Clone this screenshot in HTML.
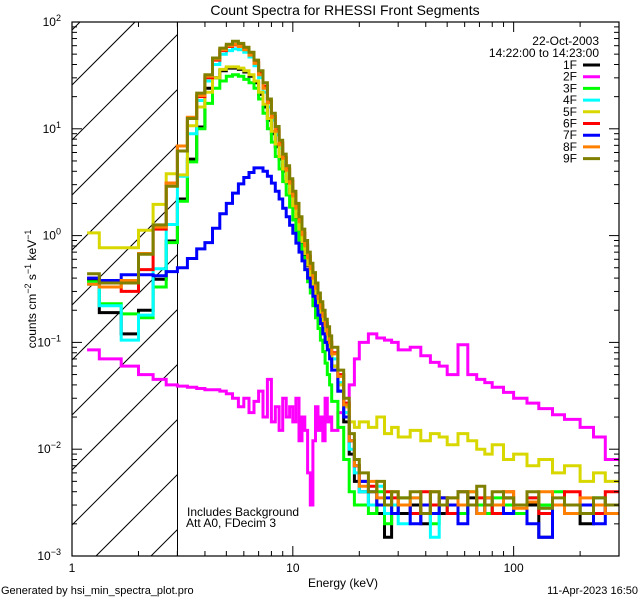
<!DOCTYPE html>
<html><head><meta charset="utf-8"><style>
html,body{margin:0;padding:0;background:#fff;width:640px;height:600px;overflow:hidden;}
svg{display:block;font-family:"Liberation Sans",sans-serif;overflow:hidden;}
</style></head><body>
<svg id="chart" width="640" height="600" viewBox="0 0 640 600">
<defs><clipPath id="plotclip"><rect x="72" y="22" width="547" height="534"/></clipPath></defs>
<rect width="640" height="600" fill="#fff"/>
<text x="345" y="15" font-size="14" text-anchor="middle">Count Spectra for RHESSI Front Segments</text>
<g id="hatch"></g>
<line x1="177.5" y1="22" x2="177.5" y2="556" stroke="#000" stroke-width="1"/>
<g id="series" clip-path="url(#plotclip)"></g>
<g id="axes"></g>
<text transform="translate(36,289) rotate(-90)" font-size="12" text-anchor="middle">counts cm<tspan dy="-5" font-size="9">−2</tspan><tspan dy="5"> s</tspan><tspan dy="-5" font-size="9">−1</tspan><tspan dy="5"> keV</tspan><tspan dy="-5" font-size="9">−1</tspan></text>
<text x="343" y="587" font-size="12" text-anchor="middle">Energy (keV)</text>
<text x="1" y="594" font-size="11">Generated by hsi_min_spectra_plot.pro</text>
<text x="638" y="594" font-size="11" text-anchor="end">11-Apr-2023 16:50</text>
<text x="187" y="516" font-size="12">Includes Background</text>
<text x="186" y="527" font-size="12">Att A0, FDecim 3</text>
<text x="599" y="45" font-size="12" text-anchor="end">22-Oct-2003</text>
<text x="599" y="57" font-size="12" text-anchor="end">14:22:00 to 14:23:00</text>
<g id="legend"></g>
</svg>
<script>
const edges=[1.17,1.33,1.67,2,2.33,2.67,3,3.33,3.67,4,4.33,4.67,5,5.33,5.67,6,6.33,6.67,7,7.33,7.67,8,8.33,8.67,9,9.33,9.67,10,10.33,10.67,11,11.33,11.67,12,12.33,12.67,13,13.33,13.67,14,14.33,14.67,15,16,17,18,19,20,22,24,26,28,30,34,38,42,46,50,56,62,68,74,80,90,100,115,130,150,170,200,230,260,300];
const seriesNames=["1F","2F","3F","4F","5F","6F","7F","8F","9F"];
const seriesColors=["#000000","#ff00ff","#00ff00","#00ffff","#d8d800","#ff0000","#0000ff","#ff8000","#808000"];
const s1F=[0.39,0.19,0.12,0.2,0.39,0.89, 2.2,5.2,10.4,24,30,35,37,37,36,34,31,27,21,16,12,9,6.8,5.2,4,3.1,2.4,1.85,1.45,1.1,0.85,0.66,0.52,0.41,0.33,0.26,0.21,0.17,0.14,0.115,0.095,0.078, 0.06,0.035,0.018,0.009,0.005, 0.004,0.003,0.0025,0.0015,0.003,0.0025,0.003,0.002,0.003,0.0025,0.003,0.0025,0.0035,0.003,0.0025,0.003,0.0035,0.0025,0.003,0.0015,0.003,0.0025,0.002,0.003,0.0025];
const s2F=[0.085,0.07,0.06,0.05,0.045,0.04, 0.039,0.038,0.037,0.036,0.036,0.035,0.033,0.03,0.025,0.03,0.022,0.028,0.035,0.02,0.045,0.018,0.025,0.015,0.03,0.02,0.025,0.018,0.03,0.012,0.02,0.015,0.006,0.003,0.012,0.025,0.015,0.02,0.012,0.03,0.018,0.02, 0.015,0.022,0.025,0.04,0.07, 0.1,0.12,0.11,0.105,0.1,0.085,0.09,0.075,0.065,0.06,0.05,0.095,0.05,0.045,0.042,0.038,0.034,0.03,0.027,0.024,0.021,0.019,0.016,0.013,0.008];
const s3F=[0.37,0.23,0.185,0.17,0.33,0.86, 2.1,4.9,10,17.3,24,28,31,32,31,29,27,24,19,14,10,7.5,5.5,4.2,3.2,2.4,1.85,1.4,1.08,0.82,0.63,0.48,0.37,0.29,0.22,0.17,0.135,0.105,0.082,0.064,0.05,0.04, 0.028,0.016,0.008,0.004,0.003, 0.003,0.0025,0.004,0.002,0.003,0.0035,0.0025,0.003,0.002,0.0035,0.003,0.0025,0.004,0.003,0.0025,0.0035,0.003,0.0025,0.0035,0.003,0.004,0.003,0.0025,0.0035,0.003];
const s4F=[0.35,0.22,0.105,0.18,0.49,1.27, 3.6,9,18.4,28,40,50,54,56,55,52,47,39,30,22,16,12,8.8,6.6,4.9,3.8,2.9,2.2,1.7,1.27,0.97,0.76,0.6,0.47,0.38,0.3,0.24,0.2,0.165,0.135,0.11,0.09, 0.07,0.042,0.022,0.01,0.006, 0.004,0.003,0.0045,0.0025,0.003,0.002,0.0035,0.003,0.0015,0.003,0.0025,0.004,0.003,0.0025,0.0035,0.003,0.0025,0.003,0.0035,0.0028,0.003,0.0025,0.003,0.0035,0.003];
const s5F=[1.06,0.77,0.77,1.12,1.96,3.8, 3.7,10.7,16,22,30,36,38,38,37,35,32,28,22,17,12.5,9.5,7.2,5.5,4.2,3.2,2.5,1.9,1.5,1.15,0.88,0.68,0.53,0.42,0.33,0.26,0.21,0.17,0.14,0.115,0.095,0.078, 0.06,0.04,0.025,0.018,0.016, 0.018,0.016,0.02,0.014,0.016,0.013,0.015,0.012,0.014,0.013,0.011,0.014,0.012,0.01,0.009,0.011,0.008,0.009,0.007,0.008,0.006,0.007,0.005,0.006,0.005];
const s6F=[0.40,0.36,0.30,0.48,1.15,3.1, 6.9,12.5,20,30,44,54,59,61,60,56,50,42,33,25,18,13,9.8,7.3,5.4,4.2,3.2,2.4,1.85,1.4,1.05,0.82,0.64,0.5,0.41,0.33,0.26,0.22,0.18,0.15,0.125,0.1, 0.08,0.05,0.027,0.012,0.007, 0.005,0.0045,0.003,0.004,0.0035,0.003,0.0025,0.004,0.003,0.0035,0.0025,0.004,0.003,0.0035,0.003,0.0025,0.004,0.003,0.0035,0.0025,0.003,0.004,0.003,0.0025,0.004];
const s7F=[0.40,0.38,0.43,0.43,0.42,0.46, 0.5,0.61,0.75,0.86,1.17,1.6,2.0,2.5,3.05,3.5,3.9,4.3,4.3,4.0,3.6,3.1,2.6,2.2,1.8,1.5,1.25,1.05,0.85,0.7,0.58,0.48,0.4,0.33,0.27,0.22,0.18,0.15,0.12,0.1,0.085,0.07, 0.055,0.035,0.02,0.012,0.007, 0.005,0.004,0.003,0.0035,0.0025,0.003,0.002,0.003,0.0025,0.0035,0.003,0.002,0.003,0.0025,0.0035,0.003,0.0025,0.003,0.002,0.0015,0.003,0.0025,0.003,0.002,0.003];
const s8F=[0.35,0.33,0.38,0.68,1.2,3.1, 6.9,12.8,20.5,31,45,55,60,62,59,55,49,41,32,24,17.5,12.8,9.5,7.1,5.3,4.1,3.1,2.35,1.8,1.35,1.02,0.8,0.62,0.49,0.4,0.32,0.26,0.21,0.175,0.145,0.12,0.1, 0.078,0.048,0.026,0.012,0.007, 0.0045,0.005,0.0035,0.003,0.004,0.003,0.0035,0.0025,0.004,0.003,0.0035,0.003,0.004,0.0025,0.0035,0.003,0.004,0.0028,0.0032,0.004,0.003,0.0025,0.0035,0.003,0.0025];
const s9F=[0.44,0.36,0.36,0.67,1.26,2.9, 6.2,12.5,21.6,32,46,57,62,66,63,58,52,44,35,27,19,14,10.5,7.8,5.8,4.5,3.4,2.6,2.0,1.5,1.15,0.9,0.7,0.55,0.45,0.36,0.29,0.24,0.2,0.165,0.14,0.115, 0.09,0.055,0.03,0.014,0.008, 0.006,0.004,0.005,0.003,0.004,0.0035,0.004,0.0025,0.004,0.003,0.0035,0.004,0.003,0.0045,0.003,0.004,0.0035,0.003,0.004,0.0028,0.0035,0.003,0.0025,0.0035,0.003];
const allSeries=[s1F,s2F,s3F,s4F,s5F,s6F,s7F,s8F,s9F];
const xMajorTicks=[1,10,100];
const xTickLabels=["1","10","100"];
const yMajorExps=[-3,-2,-1,0,1,2];

const NS="http://www.w3.org/2000/svg";
const L=72,R=619,T=22,B=556;
const HX=177.5;
const xmin=0,xmax=Math.log10(300);
function X(e){return L+(R-L)*(Math.log10(e)-xmin)/(xmax-xmin);}
function Y(v){return T+(B-T)*(2-Math.log10(v))/5;}
function mk(tag,attrs,parent){const el=document.createElementNS(NS,tag);for(const k in attrs)el.setAttribute(k,attrs[k]);parent.appendChild(el);return el;}

// hatch lines: x + y = 72 + c, clipped analytically to [L,HX]x[T,B]
const hatch=document.getElementById('hatch');
for(let k=-3;k<16;k++){
  const s=72+85+55*k; // x+y=s
  let xa=Math.max(L,s-B), xb=Math.min(HX,s-T);
  if(xb<=xa)continue;
  const ln=mk('line',{x1:xa,y1:s-xa,x2:xb,y2:s-xb,stroke:'#000','stroke-width':1},hatch);
  
  
}

const sg=document.getElementById('series');
allSeries.forEach((vals,si)=>{
  let d='';
  for(let i=0;i<vals.length;i++){
    const x0=X(edges[i]).toFixed(1),x1=X(edges[i+1]).toFixed(1),y=Math.min(B,Math.max(T,Y(vals[i]))).toFixed(1);
    d+=(i===0?'M':'L')+x0+','+y+'L'+x1+','+y;
  }
  const p=mk('path',{d:d,fill:'none',stroke:seriesColors[si],'stroke-width':3,'stroke-linejoin':'miter'},sg);
  
  
});

const ax=document.getElementById('axes');
const frame=mk('rect',{x:L,y:T,width:R-L,height:B-T,fill:'none',stroke:'#000','stroke-width':1.2},ax);


for(let dec=0;dec<3;dec++){
  for(let m=1;m<10;m++){
    const e=Math.pow(10,dec)*m; if(e>300)break;
    const x=X(e),len=(m===1)?10:5;
    const t1=mk('line',{x1:x,y1:B,x2:x,y2:B-len,stroke:'#000','stroke-width':1},ax);
    
    
    const t2=mk('line',{x1:x,y1:T,x2:x,y2:T+len,stroke:'#000','stroke-width':1},ax);
    
    
  }
}
xMajorTicks.forEach((e,i)=>{
  const t=mk('text',{x:X(e),y:572,'font-size':12,'text-anchor':'middle'},ax);
  t.textContent=xTickLabels[i];
  
  
});
yMajorExps.forEach(ex=>{
  for(let m=1;m<10;m++){
    if(ex===2&&m>1)break;
    const v=Math.pow(10,ex)*m,y=Y(v),len=(m===1)?10:5;
    const a=mk('line',{x1:L,y1:y,x2:L+len,y2:y,stroke:'#000','stroke-width':1},ax);
    
    
    const b=mk('line',{x1:R,y1:y,x2:R-len,y2:y,stroke:'#000','stroke-width':1},ax);
    
    
  }
  const t=mk('text',{x:61,y:Y(Math.pow(10,ex))+4,'font-size':12,'text-anchor':'end'},ax);
  
  
  const base=document.createElementNS(NS,'tspan');base.textContent='10';t.appendChild(base);
  const sup=document.createElementNS(NS,'tspan');sup.setAttribute('dy','-5');sup.setAttribute('font-size','9');
  sup.textContent=ex<0?('−'+(-ex)):String(ex);t.appendChild(sup);
});

const lg=document.getElementById('legend');
seriesNames.forEach((n,i)=>{
  const y=69+11.7*i;
  const t=mk('text',{x:577,y:y,'font-size':12,'text-anchor':'end'},lg);
  t.textContent=n;
  
  
  const l=mk('line',{x1:583,y1:y-4,x2:600,y2:y-4,stroke:seriesColors[i],'stroke-width':3},lg);
  
  
});
</script>
</body></html>
